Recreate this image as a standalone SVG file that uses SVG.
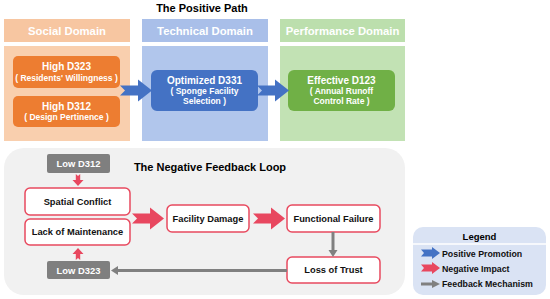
<svg xmlns="http://www.w3.org/2000/svg" width="550" height="299" viewBox="0 0 550 299">
<style>
text{font-family:"Liberation Sans",Arial,sans-serif;font-weight:bold;text-anchor:middle}
.title{font-size:11px;fill:#000}
.hdr{font-size:11.3px;fill:#fff}
.w1{font-size:10px;fill:#fff}
.w2{font-size:8.5px;fill:#fff}
.gt{font-size:9.4px;fill:#fff}
.rn{fill:#fff;stroke:#e84a5f;stroke-width:1.5}
.rt{font-size:9.3px;fill:#111}
.gn{fill:#7f7f7f}
.lg{font-size:8.8px;fill:#111;text-anchor:start}
.blue{fill:#4472c4}
.red{fill:#e8475f}
.gray{fill:#808080}
.gl{stroke:#808080;stroke-width:3;fill:none}
</style>
<defs>
<path id="arr" d="M0,-5 L18,-5 L18,-11 L32,0 L18,11 L18,5 L0,5 L5,0 Z"/>
<path id="sarr" d="M0,-2.2 L6,-2.2 L6,-5.5 L12,0 L6,5.5 L6,2.2 L0,2.2 L2,0 Z"/>
<path id="larr" d="M0,-3.5 L11,-3.5 L11,-6 L19,0 L11,6 L11,3.5 L0,3.5 L3,0 Z"/>
</defs>

<text class="title" x="202" y="12">The Positive Path</text>

<g id="social-domain">
<rect x="4" y="19" width="126" height="23" fill="#f7c6a1"/>
<rect x="4" y="46" width="126" height="95" fill="#f9cfae"/>
<text class="hdr" x="67" y="35">Social Domain</text>
</g>
<g id="technical-domain">
<rect x="142" y="19" width="126" height="23" fill="#a9bfe9"/>
<rect x="142" y="46" width="126" height="95" fill="#b1c6ec"/>
<text class="hdr" x="205" y="35">Technical Domain</text>
</g>
<g id="performance-domain">
<rect x="280" y="19" width="125" height="23" fill="#bcdfad"/>
<rect x="280" y="46" width="125" height="95" fill="#c2e2b4"/>
<text class="hdr" x="342.5" y="35">Performance Domain</text>
</g>

<g id="high-d323">
<rect x="13" y="56" width="107" height="32" rx="5" fill="#ed7d31"/>
<text class="w1" x="66.5" y="70">High D323</text>
<text class="w2" x="66.5" y="80.5">( Residents' Willingness )</text>
</g>
<g id="high-d312">
<rect x="13" y="96" width="107" height="31" rx="5" fill="#ed7d31"/>
<text class="w1" x="66.5" y="109.5">High D312</text>
<text class="w2" x="66.5" y="120">( Design Pertinence )</text>
</g>
<g id="optimized-d331">
<rect x="151" y="70" width="107" height="41" rx="6" fill="#4472c4"/>
<text class="w1" x="204.5" y="84">Optimized D331</text>
<text class="w2" x="204.5" y="94">( Sponge Facility</text>
<text class="w2" x="204.5" y="103.7">Selection )</text>
</g>
<g id="effective-d123">
<rect x="288" y="70" width="107" height="41" rx="6" fill="#70b046"/>
<text class="w1" x="341.5" y="84">Effective D123</text>
<text class="w2" x="341.5" y="94">( Annual Runoff</text>
<text class="w2" x="341.5" y="103.7">Control Rate )</text>
</g>

<g id="negative-loop-panel">
<rect x="4" y="148" width="401" height="147" rx="20" fill="#f1f1f1"/>
<text class="title" x="210" y="171">The Negative Feedback Loop</text>
</g>

<g id="low-d312">
<rect x="47" y="154" width="63" height="19" rx="2" class="gn"/>
<text class="gt" x="78.5" y="167">Low D312</text>
</g>
<g id="spatial-conflict">
<rect x="25" y="188" width="105" height="27" rx="5" class="rn"/>
<text class="rt" x="77.5" y="204.5">Spatial Conflict</text>
</g>
<g id="lack-of-maintenance">
<rect x="25" y="219" width="105" height="26" rx="5" class="rn"/>
<text class="rt" x="77.5" y="235">Lack of Maintenance</text>
</g>
<g id="low-d323">
<rect x="47" y="261" width="63" height="18" rx="2" class="gn"/>
<text class="gt" x="78.5" y="273.5">Low D323</text>
</g>
<g id="facility-damage">
<rect x="167" y="205" width="82" height="27" rx="5" class="rn"/>
<text class="rt" x="208" y="221.8">Facility Damage</text>
</g>
<g id="functional-failure">
<rect x="287" y="205" width="93" height="27" rx="5" class="rn"/>
<text class="rt" x="333.5" y="221.8">Functional Failure</text>
</g>
<g id="loss-of-trust">
<rect x="287" y="257" width="93" height="26" rx="5" class="rn"/>
<text class="rt" x="333.5" y="273.3">Loss of Trust</text>
</g>

<g id="connectors">
<use href="#arr" class="blue" transform="translate(120,90.5)"/>
<use href="#arr" class="blue" transform="translate(257,90.5)"/>
<use href="#arr" class="red" transform="translate(132,218.5)"/>
<use href="#arr" class="red" transform="translate(253,218.5)"/>
<use href="#sarr" class="red" transform="translate(78,174) rotate(90)"/>
<use href="#sarr" class="red" transform="translate(78,260) rotate(-90)"/>
<path class="gl" d="M333,232 V251"/>
<path class="gray" d="M328.5,250 L337.5,250 L333,257 Z"/>
<path class="gl" d="M287,270.5 H117"/>
<path class="gray" d="M118,266 L118,275 L111,270.5 Z"/>
</g>

<g id="legend">
<rect x="413" y="227" width="133" height="68" rx="10" fill="#dae3f4"/>
<line x1="413" y1="244" x2="546" y2="244" stroke="#fff" stroke-width="1.5"/>
<text class="title" x="479.5" y="239.5" style="font-size:9.5px">Legend</text>
<use href="#larr" class="blue" transform="translate(421,253)"/>
<text class="lg" x="442" y="256.5">Positive Promotion</text>
<use href="#larr" class="red" transform="translate(421,268)"/>
<text class="lg" x="442" y="272">Negative Impact</text>
<path class="gray" d="M421,282.5 H432 V280 L440,284 L432,288 V285.5 H421 Z"/>
<text class="lg" x="442" y="287">Feedback Mechanism</text>
</g>
</svg>
